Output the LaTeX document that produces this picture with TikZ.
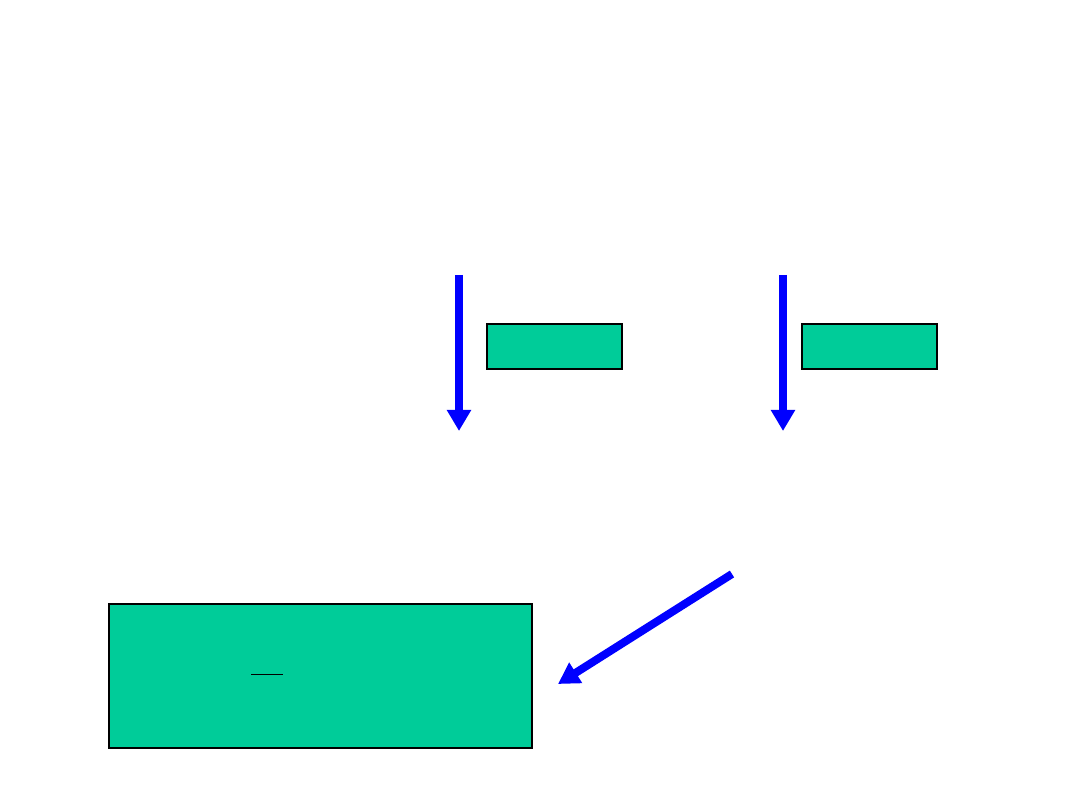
\documentclass[tikz,border=0pt]{standalone}
\usetikzlibrary{arrows.meta}
\definecolor{boxgreen}{RGB}{0,204,153}
\definecolor{arrowblue}{RGB}{0,0,255}
\tikzset{
  greenbox/.style={draw=black, line width=2pt, fill=boxgreen, inner sep=0pt, anchor=north west},
  bluearrow/.style={draw=arrowblue, line width=8pt, -{Triangle[length=21pt,width=23pt]}},
}
\begin{document}
\begin{tikzpicture}[x=1pt,y=-1pt]
\useasboundingbox (0,0) rectangle (1080,810);
\node[greenbox, minimum width=135pt, minimum height=45pt] (b1) at (485.5,323.5) {};
\node[greenbox, minimum width=135pt, minimum height=45pt] (b2) at (800.5,323.5) {};
\node[greenbox, minimum width=423pt, minimum height=144pt] (big) at (107.5,602.5) {};
\coordinate (a1s) at (459,275);
\coordinate (a1e) at (459,431);
\coordinate (a2s) at (783,275);
\coordinate (a2e) at (783,431);
\coordinate (a3s) at (732,574);
\coordinate (a3e) at (558,684);
\coordinate (f1) at (251,674);
\coordinate (f2) at (283,674);
\draw[bluearrow] (a1s) -- (a1e);
\draw[bluearrow] (a2s) -- (a2e);
\draw[bluearrow] (a3s) -- (a3e);
\draw[line width=1pt] (f1) -- (f2);
\end{tikzpicture}
\end{document}
